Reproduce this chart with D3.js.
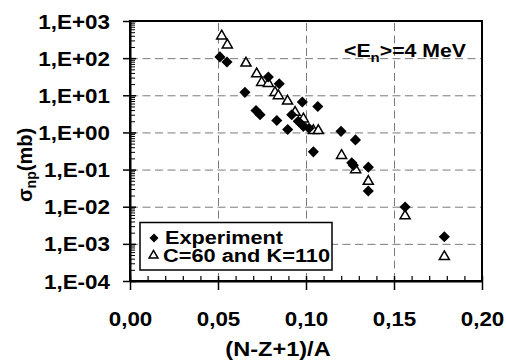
<!DOCTYPE html>
<html><head><meta charset="utf-8">
<script src="https://cdn.jsdelivr.net/npm/d3@7"></script>
<style>
body{margin:0;background:#fff}
svg{display:block}
text{font-family:"Liberation Sans",Arial,sans-serif;font-weight:bold;fill:#000}
</style>
</head><body>
<svg id="c" width="506" height="360"></svg>
<script>
// ---- data ----
const expX = [0.0511,0.0551,0.0653,0.0716,0.0739,0.0786,0.0848,0.0834,0.0896,0.0919,0.0956,0.0979,0.0985,0.1017,0.1067,0.1042,0.1199,0.1281,0.1260,0.1269,0.1354,0.1354,0.1563,0.1786];
const expY = [108,79,12,3.9,3.0,31,20.4,2.1,1.2,3.0,2.0,6.6,1.46,1.3,5.0,0.30,1.07,0.63,0.153,0.13,0.116,0.0265,0.0098,0.00155];
const calcX = [0.0521,0.0553,0.0659,0.0720,0.0748,0.0786,0.0824,0.0843,0.0895,0.0938,0.0985,0.1042,0.1070,0.1202,0.1282,0.1354,0.1563,0.1786];
const calcY = [420,240,78,40,23.5,22,12.6,10.3,7.4,3.7,2.45,1.19,1.19,0.255,0.105,0.051,0.006,0.00048];
const xTickValues = [0,0.05,0.10,0.15,0.20];
const xTickLabels = ["0,00","0,05","0,10","0,15","0,20"];
const yTickValues = [1e-4,1e-3,1e-2,1e-1,1,1e1,1e2,1e3];
const yTickLabels = ["1,E-04","1,E-03","1,E-02","1,E-01","1,E+00","1,E+01","1,E+02","1,E+03"];
const seriesNames = ["Experiment","C=60 and K=110"];

// ---- layout ----
const L = 130, R = 482, T = 21, B = 281;
const SX = 1.15;
const svg = d3.select("#c");
const x = d3.scaleLinear().domain([0,0.2]).range([L,R]);
const y = d3.scaleLog().domain([1e-4,1e3]).range([B,T]);

// grid
const gridStyle = g => g.selectAll("line").attr("stroke","#7a7a7a").attr("stroke-width",1).attr("stroke-dasharray","8,4.5");
svg.append("g").attr("transform",`translate(0,${B})`)
  .call(d3.axisBottom(x).tickValues([0.05,0.10,0.15]).tickSize(-(B-T)).tickSizeOuter(0).tickFormat(""))
  .call(g=>g.select(".domain").remove()).call(gridStyle);
svg.append("g").attr("transform",`translate(${L},0)`)
  .call(d3.axisLeft(y).tickValues([1e-3,1e-2,1e-1,1,1e1,1e2]).tickSize(-(R-L)).tickSizeOuter(0).tickFormat(""))
  .call(g=>g.select(".domain").remove()).call(gridStyle);

// frame
svg.append("rect").attr("x",L).attr("y",T).attr("width",R-L).attr("height",B-T)
  .attr("fill","none").attr("stroke","#000").attr("stroke-width",2);

// minor ticks
const yMinor = [];
for (let e=-4;e<3;e++) for (let k=2;k<10;k++) yMinor.push(k*Math.pow(10,e));
svg.append("g").attr("transform",`translate(${L},0)`)
  .call(d3.axisLeft(y).tickValues(yMinor).tickSize(-5).tickSizeOuter(0).tickFormat(""))
  .call(g=>g.select(".domain").remove())
  .call(g=>g.selectAll("line").attr("stroke","#000").attr("stroke-width",1));
const xMinor = d3.range(1,20).filter(i=>i%5!==0).map(i=>i/100);
svg.append("g").attr("transform",`translate(0,${B})`)
  .call(d3.axisBottom(x).tickValues(xMinor).tickSize(-5).tickSizeOuter(0).tickFormat(""))
  .call(g=>g.select(".domain").remove())
  .call(g=>g.selectAll("line").attr("stroke","#000").attr("stroke-width",1.2));

// major axes
const yAxis = svg.append("g").attr("transform",`translate(${L},0)`)
  .call(d3.axisLeft(y).tickValues(yTickValues).tickSize(7).tickSizeOuter(0).tickPadding(20)
    .tickFormat((d,i)=>yTickLabels[i]));
yAxis.select(".domain").attr("stroke","#000").attr("stroke-width",2);
yAxis.selectAll("line").attr("stroke","#000").attr("stroke-width",1.5).attr("x2",-7).attr("x1",6);
yAxis.selectAll("text").attr("font-size",19.5).attr("font-family",null)
  .attr("x",-20/SX).attr("transform",`scale(${SX},1)`).attr("dy","0.36em");

const xAxis = svg.append("g").attr("transform",`translate(0,${B})`)
  .call(d3.axisBottom(x).tickValues(xTickValues).tickSize(9).tickSizeOuter(0).tickPadding(0)
    .tickFormat((d,i)=>xTickLabels[i]));
xAxis.select(".domain").attr("stroke","#000").attr("stroke-width",2);
xAxis.selectAll("line").attr("stroke","#000").attr("stroke-width",1.5).attr("y1",-5);
xAxis.selectAll("text").attr("font-size",19.5).attr("font-family",null)
  .attr("y",45).attr("dy",null).attr("transform",`scale(${SX},1)`);

// markers
const diamond = d3.symbol().type(d3.symbolSquare).size(62);
const tri = d3.symbol().type(d3.symbolTriangle).size(44);
svg.append("g").selectAll("path").data(calcX.map((d,i)=>[d,calcY[i]])).join("path")
  .attr("d",tri).attr("transform",d=>`translate(${x(d[0])},${y(d[1])+1})`)
  .attr("fill","#fff").attr("stroke","#000").attr("stroke-width",1.5);
svg.append("g").selectAll("path").data(expX.map((d,i)=>[d,expY[i]])).join("path")
  .attr("d",diamond).attr("transform",d=>`translate(${x(d[0])},${y(d[1])}) rotate(45)`)
  .attr("fill","#000");

// legend
const lg = svg.append("g");
lg.append("rect").attr("x",140).attr("y",222.5).attr("width",192).attr("height",47.5)
  .attr("fill","#fff").attr("stroke","#000").attr("stroke-width",1.5);
lg.append("path").attr("d",d3.symbol().type(d3.symbolSquare).size(40))
  .attr("transform","translate(154,238) rotate(45)").attr("fill","#000");
lg.append("path").attr("d",d3.symbol().type(d3.symbolTriangle).size(34))
  .attr("transform","translate(153.5,255.5)").attr("fill","#fff").attr("stroke","#000").attr("stroke-width",1.5);
lg.append("text").attr("x",165).attr("y",243.5).attr("font-size",17.5)
  .attr("textLength",118).attr("lengthAdjust","spacingAndGlyphs").text(seriesNames[0]);
lg.append("text").attr("x",163).attr("y",262).attr("font-size",17.5)
  .attr("textLength",167).attr("lengthAdjust","spacingAndGlyphs").text(seriesNames[1]);

// annotation
const ann = svg.append("text").attr("transform",`translate(344,57) scale(${SX},1)`).attr("font-size",18.5);
ann.append("tspan").text("<E");
ann.append("tspan").attr("font-size",13).attr("dy",5).text("n");
ann.append("tspan").attr("dy",-5).text(">=4 MeV");

// axis titles
svg.append("text").attr("transform",`translate(278,356) scale(${SX},1)`).attr("text-anchor","middle")
  .attr("font-size",20.5).text("(N-Z+1)/A");
const yt = svg.append("text").attr("transform","translate(32,165) rotate(-90)").attr("text-anchor","middle")
  .attr("font-size",20);
yt.append("tspan").text("σ");
yt.append("tspan").attr("font-size",14).attr("dy",4).text("np");
yt.append("tspan").attr("dy",-4).text("(mb)");
</script>
</body></html>
